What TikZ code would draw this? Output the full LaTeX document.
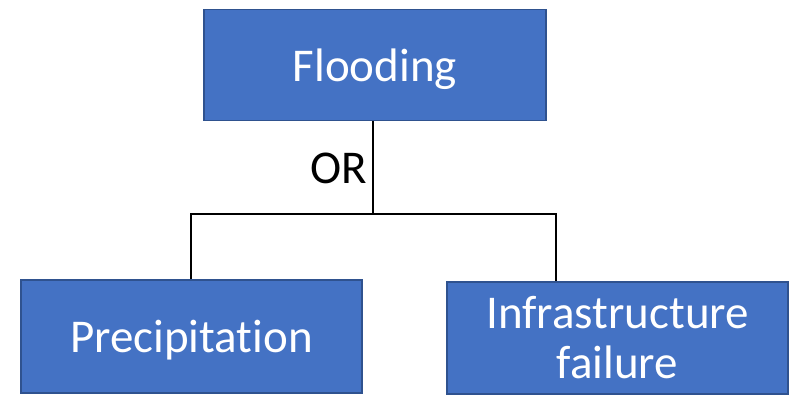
\documentclass[tikz,border=0pt]{standalone}
\usepackage{fontspec}
\setmainfont[Ligatures=NoCommon]{Carlito}
\usepackage{xcolor}
\definecolor{boxfill}{HTML}{4472C4}
\definecolor{boxline}{HTML}{2F528F}

\begin{document}
\begin{tikzpicture}[x=1pt, y=-1pt,
    event/.style={draw=boxline, line width=1.5pt, fill=boxfill, text=white,
      font=\fontsize{47}{50}\selectfont, align=center, inner sep=0pt},
    link/.style={draw=black, line width=2pt}]
  \useasboundingbox (0,0) rectangle (800,396);
  % events
  \node[event, text depth=0pt, minimum width=342pt, minimum height=111pt] (flood) at (375,65) {Flooding};
  \node[event, text depth=0pt, minimum width=341pt, minimum height=113pt] (precip) at (191.5,336.5) {Precipitation};
  \node[event, minimum width=341pt, minimum height=112pt] (infra) at (617.5,338) {Infrastructure\\failure};
  % gate
  \coordinate (fork) at (373,214);
  \coordinate (dropL) at (191,214);
  \coordinate (dropR) at (556,214);
  \draw[link] (flood.south -| fork) -- (fork);
  \draw[link] (precip.north -| dropL) -- (dropL) -- (dropR) -- (infra.north -| dropR);
  \node[font=\fontsize{47}{50}\selectfont, inner sep=0pt, anchor=east] (gate) at (367,168.5) {OR};
\end{tikzpicture}
\end{document}
